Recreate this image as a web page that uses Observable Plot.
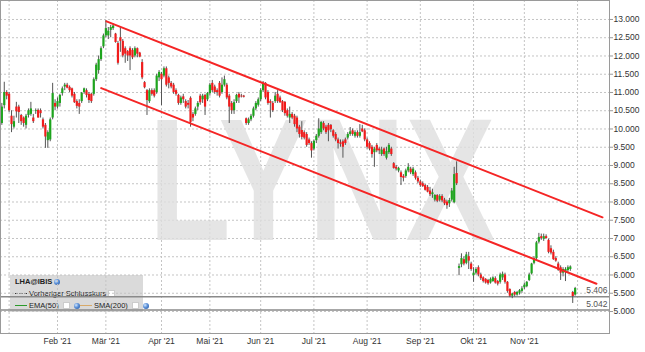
<!DOCTYPE html>
<html><head><meta charset="utf-8">
<script src="https://cdn.jsdelivr.net/npm/d3@7"></script>
<script src="https://cdn.jsdelivr.net/npm/@observablehq/plot@0.6"></script>
<style>
body{margin:0;background:#fff;font-family:"Liberation Sans",Arial,sans-serif;}
#wrap{position:relative;width:645px;height:352px;overflow:hidden;}
#chart{position:absolute;left:0;top:0;z-index:1;}
#legend{position:absolute;left:10px;top:275px;width:133px;height:37px;background:#dadada;z-index:0;font-size:7.5px;color:#222;}
#legend .row{position:absolute;left:5px;white-space:nowrap;display:flex;align-items:center;height:9px;}
.glb{display:inline-block;width:6px;height:6px;border-radius:50%;background:radial-gradient(circle at 35% 35%,#cfe6ff 0,#5b8fd6 45%,#1d4f9a 100%);}
.sq{display:inline-block;width:5px;height:5px;background:#fff;border:0.5px solid #ccc;}
.ln{display:inline-block;width:12px;height:0;}
</style></head>
<body>
<div id="wrap">
  <div id="legend">
    <div class="row" style="top:2px;"><b style="font-size:7.5px;">LHA@IBIS</b>&nbsp;<span class="glb"></span></div>
    <div class="row" style="top:14px;"><span class="ln" style="border-top:1.2px dashed #333;"></span>&nbsp;Vorheriger Schlusskurs&nbsp;<span class="sq"></span></div>
    <div class="row" style="top:26px;"><span class="ln" style="border-top:1.3px solid #2a9a2a;"></span>&nbsp;EMA(50)&nbsp;&nbsp;<span class="sq"></span>&nbsp;&nbsp;<span class="glb"></span><span class="ln" style="border-top:1.3px solid #d8aa6a;"></span>&nbsp;SMA(200)&nbsp;&nbsp;<span class="sq"></span>&nbsp;&nbsp;<span class="glb"></span></div>
  </div>
  <div id="chart"></div>
</div>
<script>
// Trading session numbers (0 = first session of January 2021)
const firstSession = -3;
const open = [10.15,10.64,11.0,10.95,10.35,10.05,10.6,10.6,10.37,10.3,10.1,10.37,10.4,10.3,10.48,10.51,10.5,10.25,10.1,9.68,9.7,10.3,10.7,10.6,10.7,10.97,11.15,11.2,11.14,11.1,10.95,10.75,10.7,10.75,11.0,11.05,10.95,10.95,10.95,11.35,11.6,11.9,12.25,12.55,12.55,12.7,12.75,12.6,12.34,12.5,12.4,12.2,12.12,12.2,12.15,12.0,12.2,12.08,11.82,11.27,11.05,10.75,11.05,11.05,11.0,11.4,11.5,11.45,11.65,11.4,11.25,11.2,11.05,10.92,10.7,10.88,10.75,10.7,10.84,10.4,10.4,10.6,10.9,10.8,10.92,10.8,10.97,11.25,11.15,11.05,11.25,11.0,11.2,11.2,10.9,10.7,10.5,10.75,10.95,10.9,10.9,10.28,10.15,10.25,10.35,10.55,10.65,10.8,11.05,11.25,11.0,10.75,10.7,10.75,10.95,10.85,10.75,10.73,10.5,10.3,10.4,10.35,10.3,10.05,9.96,9.9,9.85,9.7,9.6,9.45,9.68,9.8,9.9,10.15,10.05,10.1,10.1,9.95,9.85,9.7,9.62,9.65,9.7,9.75,9.85,9.95,9.8,9.9,9.8,10.0,9.95,9.7,9.6,9.5,9.35,9.55,9.45,9.3,9.45,9.2,9.35,9.45,9.05,8.95,8.85,8.8,8.7,8.7,8.85,8.9,8.75,8.8,8.65,8.55,8.5,8.45,8.4,8.3,8.2,8.05,8.18,8.05,8.15,8.05,8.0,7.95,8.05,7.98,8.78,6.18,6.28,6.42,6.32,6.5,6.3,5.98,6.05,6.2,6.0,5.92,5.88,5.85,5.78,5.82,5.9,5.82,5.8,5.92,6.0,5.8,5.6,5.42,5.52,5.45,5.5,5.55,5.65,5.68,5.85,6.03,6.32,6.45,6.9,7.05,6.98,7.05,6.95,6.72,6.62,6.45,6.3,6.2,6.05,6.08,6.12,6.15,5.52,5.45];
const high = [10.7,11.28,11.05,11.0,10.5,10.35,10.73,10.65,10.4,10.33,10.4,10.55,10.73,10.4,10.55,10.55,10.55,10.3,10.15,9.95,10.3,11.25,10.8,10.85,10.95,11.15,11.25,11.25,11.18,11.12,11.0,10.8,10.8,11.0,11.12,11.1,11.0,10.98,11.4,11.8,12.0,12.25,12.6,12.97,12.78,12.84,12.88,12.62,12.4,12.78,12.45,12.25,12.15,12.25,12.2,12.25,12.22,12.1,11.9,11.3,11.08,11.1,11.1,11.1,11.5,11.6,11.55,11.7,11.7,11.45,11.3,11.25,11.1,10.95,10.9,10.95,10.8,10.78,10.88,10.45,10.6,10.75,10.95,10.95,10.95,11.0,11.25,11.33,11.2,11.1,11.3,11.4,11.45,11.25,10.95,10.75,10.8,10.95,11.0,10.95,10.92,10.3,10.3,10.4,10.6,10.75,10.85,11.1,11.3,11.27,11.05,10.8,10.75,11.0,11.05,10.9,10.78,10.75,10.55,10.6,10.45,10.4,10.35,10.1,10.2,9.95,9.9,9.75,9.65,9.7,9.85,10.28,10.2,10.2,10.1,10.15,10.12,9.98,9.9,9.75,9.7,9.7,9.75,9.9,10.04,10.0,9.95,9.95,10.12,10.1,10.0,9.75,9.65,9.55,9.5,9.6,9.5,9.5,9.48,9.5,9.6,9.5,9.08,9.0,8.95,8.85,8.75,8.9,9.05,8.95,8.95,8.85,8.7,8.6,8.55,8.48,8.45,8.4,8.35,8.2,8.2,8.2,8.2,8.1,8.05,8.1,8.37,8.95,9.1,6.3,6.58,6.5,6.62,6.62,6.35,6.2,6.2,6.25,6.05,5.95,5.9,5.88,5.92,5.95,5.95,5.85,6.05,6.08,6.05,5.82,5.62,5.5,5.55,5.55,5.6,5.68,5.78,5.82,6.05,6.32,6.5,6.92,7.14,7.12,7.12,7.1,6.98,6.8,6.68,6.5,6.35,6.25,6.2,6.2,6.25,6.25,5.55,5.66];
const low = [10.1,10.55,10.8,10.45,9.9,10.0,10.3,10.15,10.1,10.05,10.0,10.3,10.35,10.15,10.4,10.3,10.3,10.0,9.47,9.47,9.65,10.25,10.5,10.55,10.6,10.9,11.05,11.1,11.0,10.85,10.7,10.55,10.4,10.7,10.95,10.85,10.7,10.7,10.9,11.3,11.5,11.85,12.2,12.5,12.45,12.5,12.7,12.35,11.75,12.1,11.95,11.8,11.85,11.6,11.9,11.95,11.95,11.95,11.35,11.1,10.37,10.7,10.9,10.85,10.95,11.3,10.64,11.4,11.15,11.1,11.1,10.95,10.9,10.65,10.65,10.7,10.55,10.55,10.05,10.2,10.35,10.5,10.65,10.7,10.37,10.75,10.9,11.0,10.95,10.9,10.85,10.95,11.15,10.8,10.15,10.4,10.4,10.7,10.7,10.85,10.85,10.1,10.1,10.2,10.3,10.5,10.6,10.75,11.0,10.8,10.65,10.3,10.45,10.7,10.7,10.7,10.45,10.35,10.3,10.15,10.25,10.05,9.9,9.75,9.7,9.7,9.5,9.55,9.2,9.4,9.6,9.75,9.85,9.95,9.85,9.65,9.9,9.75,9.65,9.45,9.5,9.2,9.55,9.7,9.8,9.8,9.75,9.75,9.75,9.9,9.65,9.45,9.4,9.2,8.95,9.35,9.3,9.25,9.25,9.15,9.3,9.25,8.9,8.85,8.8,8.45,8.55,8.65,8.8,8.75,8.7,8.6,8.5,8.4,8.4,8.3,8.25,8.15,8.1,8.0,7.98,8.0,7.98,7.9,7.8,7.85,8.0,7.95,8.45,5.98,6.2,6.25,6.28,6.15,6.1,5.8,6.0,5.95,5.85,5.78,5.75,5.72,5.75,5.8,5.75,5.7,5.75,5.85,5.75,5.5,5.38,5.35,5.4,5.42,5.45,5.5,5.6,5.65,5.82,6.0,6.28,6.4,6.85,6.95,6.92,6.98,6.58,6.55,6.4,6.35,6.1,5.85,5.95,5.82,6.05,6.1,5.22,5.42];
const close = [10.6,11.0,10.9,10.5,10.12,10.2,10.47,10.45,10.2,10.15,10.35,10.5,10.55,10.2,10.5,10.3,10.42,10.05,9.78,9.9,10.25,10.97,10.6,10.75,10.92,11.1,11.2,11.12,11.05,10.9,10.72,10.62,10.6,10.98,11.1,10.92,10.78,10.75,11.35,11.75,11.9,12.2,12.55,12.75,12.68,12.78,12.82,12.37,11.8,12.4,12.0,12.05,12.0,12.0,11.95,12.2,12.05,11.97,11.4,11.13,10.78,11.05,10.95,10.9,11.45,11.55,11.35,11.65,11.2,11.25,11.15,11.0,10.95,10.7,10.85,10.8,10.6,10.65,10.18,10.3,10.55,10.7,10.72,10.9,10.6,10.97,11.2,11.05,11.0,11.0,10.9,11.2,11.35,10.85,10.6,10.5,10.72,10.92,10.85,10.88,10.87,10.15,10.25,10.35,10.55,10.7,10.8,11.05,11.25,10.85,10.7,10.7,10.5,10.9,10.75,10.72,10.5,10.42,10.35,10.4,10.3,10.12,10.0,9.85,9.77,9.75,9.55,9.6,9.4,9.66,9.8,10.0,10.18,10.0,9.9,9.95,9.98,9.8,9.7,9.6,9.58,9.5,9.6,9.85,9.92,9.85,9.9,9.8,9.9,9.92,9.7,9.5,9.45,9.3,9.45,9.4,9.4,9.42,9.3,9.38,9.55,9.3,8.92,8.9,8.92,8.67,8.65,8.85,8.95,8.8,8.9,8.65,8.55,8.45,8.42,8.32,8.27,8.2,8.25,8.18,8.02,8.15,8.03,7.95,7.9,8.04,8.3,8.75,8.5,6.23,6.45,6.3,6.55,6.38,6.15,6.05,6.15,6.0,5.9,5.82,5.78,5.76,5.88,5.92,5.78,5.75,6.0,6.02,5.8,5.55,5.42,5.48,5.45,5.52,5.57,5.62,5.72,5.8,6.0,6.3,6.45,6.88,7.03,7.0,7.05,7.0,6.62,6.6,6.42,6.38,6.13,6.05,6.15,6.15,6.2,6.22,5.41,5.63];

const yTicks = [5,5.5,6,6.5,7,7.5,8,8.5,9,9.5,10,10.5,11,11.5,12,12.5,13];
const monthSessions = [0,20,40,63,83,104,126,148,170,192,213,235];
const monthLabels = ["","Feb '21","Mär '21","Apr '21","Mai '21","Jun '21","Jul '21","Aug '21","Sep '21","Okt '21","Nov '21",""];
const levelValues = [5.406,5.042];
const trendNames = ["oben","oben","unten","unten"];
const trendSessions = [40.26,245.3,38.07,242.8];
const trendPrices = [12.95,7.58,11.12,5.76];
const watermark = ["LYNX"];

const candles = close.map((c,k)=>({session:firstSession+k,open:open[k],high:high[k],low:low[k],close:c}));
const trend = trendNames.map((n,k)=>({name:n,session:trendSessions[k],price:trendPrices[k]}));
const labelBySession = new Map(monthSessions.map((s,k)=>[s,monthLabels[k]]));

const chart = Plot.plot({
  width:645, height:352,
  marginLeft:0, marginRight:36, marginTop:0, marginBottom:19,
  style:{background:"transparent",fontFamily:"Liberation Sans, Arial, sans-serif",fontSize:"8.5px",color:"#333"},
  x:{type:"linear",domain:[-3.56,248.2],label:null},
  y:{domain:[4.397,13.52],label:null},
  marks:[
    Plot.gridY(yTicks,{stroke:"#c4c4c4",strokeOpacity:1,strokeDasharray:"2,2"}),
    Plot.gridX(monthSessions,{stroke:"#c4c4c4",strokeOpacity:1,strokeDasharray:"2,2"}),
    Plot.text(watermark,{frameAnchor:"middle",dx:17,dy:17,text:d=>d,fontSize:175,fontWeight:"bold",fill:"#dedede",fillOpacity:0.8,fontFamily:"Liberation Sans, Arial, sans-serif"}),
    Plot.ruleY(levelValues,{stroke:"#8a8a8a",strokeWidth:1.5}),
    Plot.text(levelValues,{y:d=>d,frameAnchor:"right",textAnchor:"end",dx:-2,dy:-6,text:d=>d.toFixed(3),fill:"#555",fontSize:8.5}),
    Plot.ruleX(candles,{x:"session",y1:"low",y2:"high",stroke:"#555",strokeWidth:1}),
    Plot.ruleX(candles,{x:"session",y1:"open",y2:"close",stroke:d=>d.close>=d.open?"#1ea51e":"#f01c1c",strokeWidth:2.2}),
    Plot.line(trend,{x:"session",y:"price",z:"name",stroke:"#f52525",strokeWidth:2}),
    Plot.frame({stroke:"#9a9a9a"}),
    Plot.axisY(yTicks,{anchor:"right",label:null,tickFormat:d=>d.toFixed(3),tickSize:3,tickPadding:1,stroke:"#9a9a9a",fill:"#333"}),
    Plot.axisX(monthSessions,{anchor:"bottom",label:null,tickFormat:d=>labelBySession.get(d)??"",tickSize:0,tickPadding:4,fill:"#333"})
  ]
});
document.getElementById("chart").appendChild(chart);
chart.querySelectorAll("text").forEach(t=>{
  if(t.textContent==="LYNX"){t.setAttribute("textLength","347");t.setAttribute("lengthAdjust","spacingAndGlyphs");}
});
</script>
</body></html>
